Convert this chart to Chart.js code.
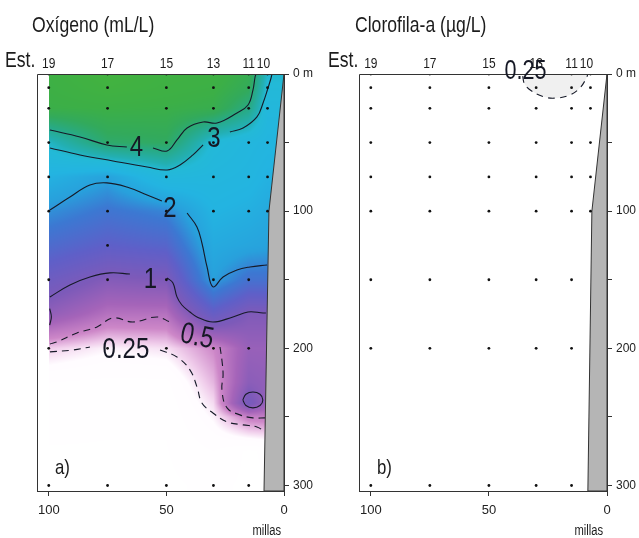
<!DOCTYPE html>
<html>
<head>
<meta charset="utf-8">
<script src="https://cdn.jsdelivr.net/npm/chart.js@4.4.1/dist/chart.umd.min.js"></script>
<style>
  body { margin: 0; background: #fff; }
  .panel { position: absolute; top: 0; }
</style>
</head>
<body>
<div class="panel" style="left:0"><canvas id="oxi" width="320" height="538"></canvas></div>
<div class="panel" style="left:320px"><canvas id="clo" width="319" height="538"></canvas></div>
<script>
var FONT = '"Liberation Sans", Arial, sans-serif';
var SQUEEZE = 0.8; // la figura original usa una fuente estrecha

// estaciones (millas de la costa)
var stationNames = ['19', '17', '15', '13', '11', '10'];
var stationMiles = [100, 75, 50, 30, 15, 7];
var gridDepths = [0, 10, 25, 50, 75, 100, 125, 150, 175, 200, 225, 240, 250, 275, 300];

// oxigeno (mL/L), por estacion en gridDepths
var oxy19 = [4.7, 4.65, 4.55, 3.15, 2.45, 1.98, 1.6, 1.2, 0.85, 0.3, 0.1, 0.06, 0.05, 0.03, 0.02];
var oxy17 = [5.0, 4.9, 4.6, 4.05, 2.15, 1.75, 1.4, 0.95, 0.6, 0.22, 0.08, 0.05, 0.04, 0.03, 0.02];
var oxy15 = [4.8, 4.75, 4.55, 4.15, 2.8, 1.9, 1.5, 1.0, 0.6, 0.26, 0.08, 0.05, 0.04, 0.03, 0.02];
var oxy13 = [4.75, 4.65, 4.45, 2.95, 2.7, 2.5, 2.3, 2.1, 1.3, 0.45, 0.35, 0.27, 0.22, 0.1, 0.05];
var oxy11 = [4.4, 4.25, 3.8, 2.7, 2.6, 2.4, 2.2, 1.7, 0.98, 0.8, 0.9, 1.1, 0.5, 0.02, 0.02];
var oxy10 = [3.1, 2.95, 2.8, 2.6, 2.45, 2.3, 2.15, 1.7, 0.98, 0.8, 0.85, 0.8, 0.52, 0.05, 0.03];
var oxygenGrid = [oxy19, oxy17, oxy15, oxy13, oxy11, oxy10];

// profundidades muestreadas (puntos)
var samplesA = [
  [0, 10, 25, 50, 75, 100, 150, 200, 300],
  [0, 10, 25, 50, 75, 100, 125, 150, 200, 300],
  [0, 10, 25, 50, 75, 100, 150, 200, 300],
  [0, 10, 25, 50, 75, 100, 150, 200, 300],
  [0, 10, 25, 50, 75, 100, 150, 200, 300],
  [0, 10, 25, 50, 75, 100]
];
var samplesB = [
  [0, 10, 25, 50, 75, 100, 150, 200, 300],
  [0, 10, 25, 50, 75, 100, 150, 200, 300],
  [0, 10, 25, 50, 75, 100, 150, 200, 300],
  [0, 10, 25, 50, 75, 100, 150, 200, 300],
  [0, 10, 25, 50, 75, 100, 150, 200, 300],
  [0, 10, 25, 50, 75, 100]
];

// plataforma (millas, m)
var shelfA = [[0, 0], [6.4, 100], [8.5, 304], [0, 304], [0, 0]];
var shelfB = [[0, 0], [6.4, 100], [8.1, 304], [0, 304], [0, 0]];

// isolineas de oxigeno (millas, m)
var iso4a = [[99.5, 40.8], [86.7, 45.9], [75.3, 51.7], [66.8, 53.2]];
var iso4b = [[55.7, 53.9], [49.7, 56.1], [45.5, 48.1], [41.2, 39.4], [34.4, 35.0], [28.5, 35.7],
  [20.0, 28.4], [15.3, 22.6], [13.2, 11.7], [12.3, 2.2], [11.9, 0]];
var iso3a = [[99.5, 53.9], [86.7, 59.0], [72.7, 63.4], [58.2, 67.8], [49.7, 70.0], [44.2, 66.3],
  [38.7, 59.0], [34.4, 51.7]];
var iso3b = [[23.0, 42.3], [17.4, 39.4], [11.5, 31.3], [8.9, 21.1], [6.8, 10.2], [5.5, 2.9], [5.1, 0]];
var iso2a = [[99.5, 99.1], [91.0, 89.7], [82.5, 80.9], [75.3, 79.4], [66.8, 82.4], [58.2, 88.2], [51.9, 92.6]];
var iso2b = [[41.2, 101.3], [37.0, 111.5], [34.9, 123.2], [32.7, 140.7], [30.2, 155.2], [25.9, 148.0],
  [20.0, 142.9], [14.5, 140.7], [7.2, 139.2]];
var iso1a = [[99.5, 162.5], [91.0, 153.8], [82.5, 148.0], [74.0, 145.0], [65.5, 145.8]];
var iso1b = [[49.7, 148.7], [47.2, 152.3], [45.5, 162.5], [43.4, 168.4], [40.0, 173.5], [37.0, 177.1],
  [30.2, 180.8], [21.7, 177.1], [15.3, 173.5], [8.9, 174.2], [7.7, 174.2]];
var iso1c = [[99.6, 171], [98.9, 177], [99.6, 183]];
var iso1d = [[17.5, 237.6], [16.2, 233.5], [13.2, 231.8], [10.2, 233.5], [9.0, 237.6], [10.2, 241.7],
  [13.2, 243.4], [16.2, 241.7], [17.5, 237.6]];
var iso05a = [[99.5, 196.8], [96.5, 195.3], [88.0, 188.8], [79.5, 184.4], [72.7, 177.8], [64.2, 180.8],
  [54.0, 177.1], [48.5, 180.8]];
var iso05b = [[27.2, 199.0], [26.4, 208.5], [25.9, 219.4], [26.4, 230.3], [24.2, 243.4], [18.7, 248.5],
  [13.2, 250.7], [8.1, 250.7]];
var iso025a = [[99.5, 202.6], [89.7, 201.2], [82.5, 199.0]];
var iso025b = [[52.7, 201.2], [45.5, 206.3], [40.0, 215.7], [37.0, 228.1], [34.9, 239.8], [30.2, 247.1],
  [24.2, 253.6], [17.4, 255.8], [11.5, 257.3], [8.1, 260.9]];
var oxyLabels = [
  { text: '4', m: 62.7, d: 53.6 }, { text: '3', m: 29.8, d: 47.4 },
  { text: '2', m: 48.5, d: 98.4 }, { text: '1', m: 56.8, d: 150 },
  { text: '0.5', m: 37.0, d: 191.7, rot: 0.2 }, { text: '0.25', m: 67.2, d: 200.8 }
];

// clorofila-a: isolinea 0.25 cerca de la superficie
var chl025 = [[35.7, 1.5], [34.9, 7.3], [31.9, 12.4], [26.4, 16.8], [21.3, 17.5], [15.7, 15.3],
  [11.5, 10.2], [8.9, 3.6], [8.1, 0]];
var chlLabels = [{ text: '0.25', m: 34.5, d: -1.8, size: 27 }];

// paleta
var oxyStops = [
  [0.0, 255, 255, 255], [0.2, 255, 252, 255], [0.3, 240, 205, 235], [0.45, 205, 135, 200],
  [0.7, 165, 100, 185], [1.0, 125, 90, 185], [1.4, 95, 95, 200], [1.8, 60, 120, 210],
  [2.1, 40, 160, 220], [2.5, 35, 180, 225], [3.0, 35, 185, 215], [3.3, 35, 175, 178],
  [3.8, 40, 170, 132], [4.2, 50, 170, 92], [4.6, 60, 175, 70], [5.2, 70, 180, 60]
];

function oxyColor(v) {
  if (v <= oxyStops[0][0]) return oxyStops[0].slice(1);
  for (var i = 1; i < oxyStops.length; i++) {
    if (v <= oxyStops[i][0]) {
      var a = oxyStops[i - 1], b = oxyStops[i], t = (v - a[0]) / (b[0] - a[0]);
      return [a[1] + t * (b[1] - a[1]), a[2] + t * (b[2] - a[2]), a[3] + t * (b[3] - a[3])];
    }
  }
  return oxyStops[oxyStops.length - 1].slice(1);
}

function profile(col, d) {
  if (d <= gridDepths[0]) return col[0];
  for (var k = 1; k < gridDepths.length; k++) {
    if (d <= gridDepths[k]) {
      var t = (d - gridDepths[k - 1]) / (gridDepths[k] - gridDepths[k - 1]);
      return col[k - 1] + t * (col[k] - col[k - 1]);
    }
  }
  return col[col.length - 1];
}

function valueAt(grid, m, d) {
  var n = stationMiles.length;
  if (m >= stationMiles[0]) return profile(grid[0], d);
  if (m <= stationMiles[n - 1]) return profile(grid[n - 1], d);
  for (var i = 0; i < n - 1; i++) {
    if (m <= stationMiles[i] && m >= stationMiles[i + 1]) {
      var t = (stationMiles[i] - m) / (stationMiles[i] - stationMiles[i + 1]);
      return (1 - t) * profile(grid[i], d) + t * profile(grid[i + 1], d);
    }
  }
}

var fieldPlugin = {
  id: 'field',
  beforeDatasetsDraw: function(chart, args, opts) {
    if (!opts.grid) return;
    var xs = chart.scales.x, ys = chart.scales.y;
    var x0 = Math.round(xs.getPixelForValue(100)), x1 = Math.round(xs.getPixelForValue(0));
    var y0 = Math.round(ys.getPixelForValue(0)), y1 = Math.round(ys.getPixelForValue(304));
    var w = x1 - x0, h = y1 - y0;
    var off = document.createElement('canvas');
    off.width = w; off.height = h;
    var octx = off.getContext('2d');
    var img = octx.createImageData(w, h);
    for (var j = 0; j < h; j++) {
      var d = ys.getValueForPixel(y0 + j + 0.5);
      for (var i = 0; i < w; i++) {
        var m = xs.getValueForPixel(x0 + i + 0.5);
        var c = oxyColor(valueAt(opts.grid, m, d));
        var k = (j * w + i) * 4;
        img.data[k] = c[0]; img.data[k + 1] = c[1]; img.data[k + 2] = c[2]; img.data[k + 3] = 255;
      }
    }
    octx.putImageData(img, 0, 0);
    chart.ctx.drawImage(off, x0, y0);
  }
};

function txt(ctx, s, x, y, size, align, rot) {
  ctx.save();
  ctx.translate(x, y);
  if (rot) ctx.rotate(rot);
  ctx.scale(SQUEEZE, 1);
  ctx.font = size + 'px ' + FONT;
  ctx.textAlign = align || 'left';
  ctx.fillText(s, 0, 0);
  ctx.restore();
}

var notesPlugin = {
  id: 'notes',
  afterDatasetsDraw: function(chart, args, o) {
    var ctx = chart.ctx, a = chart.chartArea;
    var xs = chart.scales.x, ys = chart.scales.y;
    ctx.save();
    ctx.strokeStyle = '#333';
    ctx.lineWidth = 1;
    ctx.beginPath();
    ctx.moveTo(a.left + 0.5, a.bottom);
    ctx.lineTo(a.left + 0.5, a.top + 0.5);
    ctx.lineTo(a.right, a.top + 0.5);
    ctx.stroke();

    ctx.fillStyle = '#1c1c1c';
    ctx.textBaseline = 'alphabetic';
    txt(ctx, o.title, o.titleX, 32, 22);
    txt(ctx, 'Est.', o.estX, 67, 22);
    stationNames.forEach(function(s, i) {
      txt(ctx, s, xs.getPixelForValue(stationMiles[i]) + (i === 5 ? -4 : 0), 68, 15, 'center');
    });
    txt(ctx, o.letter, o.letterX, 474, 21);
    txt(ctx, 'millas', o.millasX, 535, 14, 'right');

    ctx.fillStyle = '#151825';
    ctx.textBaseline = 'middle';
    o.labels.forEach(function(l) {
      txt(ctx, l.text, xs.getPixelForValue(l.m), ys.getPixelForValue(l.d), l.size || 30, 'center', l.rot);
    });
    ctx.restore();
  }
};

function pts(list) {
  return list.map(function(p) { return { x: p[0], y: p[1] }; });
}

function dots(samples) {
  var out = [];
  samples.forEach(function(ds, i) {
    ds.forEach(function(d) { out.push({ x: stationMiles[i], y: d }); });
  });
  return out;
}

function line(list, dashed) {
  return {
    data: pts(list), showLine: true, fill: false, pointRadius: 0,
    borderColor: '#161a28', borderWidth: 1.1, tension: 0.4,
    borderDash: dashed ? [7, 5] : []
  };
}

function makeChart(id, cfg) {
  return new Chart(document.getElementById(id), {
    type: 'scatter',
    data: { datasets: cfg.datasets },
    plugins: [fieldPlugin, notesPlugin],
    options: {
      responsive: false,
      animation: false,
      events: [],
      layout: { padding: { left: cfg.left, right: cfg.right, top: 74, bottom: 17 } },
      plugins: {
        legend: { display: false },
        tooltip: { enabled: false },
        field: { grid: cfg.grid },
        notes: cfg.notes
      },
      scales: {
        x: {
          type: 'linear', min: 0, max: 105, reverse: true, position: 'bottom',
          afterBuildTicks: function(s) { s.ticks = [100, 50, 0].map(function(v) { return { value: v }; }); },
          afterFit: function(s) { s.height = 30; },
          ticks: { font: { family: FONT, size: 13 }, color: '#222', padding: 7, maxRotation: 0, autoSkip: false,
            callback: function(v) { return String(v); } },
          grid: { drawOnChartArea: false, drawTicks: true, tickLength: 5, color: '#333' },
          border: { display: true, color: '#333', width: 1 }
        },
        y: {
          type: 'linear', min: 0, max: 304, reverse: true, position: 'right',
          afterBuildTicks: function(s) { s.ticks = [0, 50, 100, 150, 200, 250, 300].map(function(v) { return { value: v }; }); },
          afterFit: function(s) { s.width = 30; },
          ticks: { font: { family: FONT, size: 12 }, color: '#222', padding: 4, autoSkip: false,
            callback: function(v) { return v === 0 ? '0 m' : (v % 100 === 0 ? String(v) : ''); } },
          grid: { drawOnChartArea: false, drawTicks: true, tickLength: 5, color: '#333' },
          border: { display: true, color: '#333', width: 1 }
        }
      }
    }
  });
}

var dotStyle = { showLine: false, pointRadius: 1.4, pointBackgroundColor: '#111', pointBorderWidth: 0 };

makeChart('oxi', {
  left: 37, right: 6, grid: oxygenGrid,
  notes: { title: 'Oxígeno (mL/L)', titleX: 32, estX: 5, letter: 'a)', letterX: 55, millasX: 281, labels: oxyLabels },
  datasets: [
    Object.assign({ data: dots(samplesA) }, dotStyle),
    { data: pts(shelfA), showLine: true, fill: 'shape', backgroundColor: '#b5b5b5', borderColor: '#333',
      borderWidth: 1, pointRadius: 0, tension: 0 },
    line(iso4a), line(iso4b), line(iso3a), line(iso3b), line(iso2a), line(iso2b),
    line(iso1a), line(iso1b), line(iso1c), line(iso1d),
    line(iso05a, true), line(iso05b, true), line(iso025a, true), line(iso025b, true)
  ]
});

makeChart('clo', {
  left: 39, right: 2, grid: null,
  notes: { title: 'Clorofila-a (µg/L)', titleX: 35, estX: 8, letter: 'b)', letterX: 57, millasX: 283, labels: chlLabels },
  datasets: [
    Object.assign({ data: dots(samplesB) }, dotStyle),
    { data: pts(shelfB), showLine: true, fill: 'shape', backgroundColor: '#b5b5b5', borderColor: '#333',
      borderWidth: 1, pointRadius: 0, tension: 0 },
    line(chl025, true),
    { data: pts(chl025), showLine: true, fill: 'shape', backgroundColor: 'rgba(0,0,0,0.06)',
      borderWidth: 0, pointRadius: 0, tension: 0.4 }
  ]
});
</script>
</body>
</html>
